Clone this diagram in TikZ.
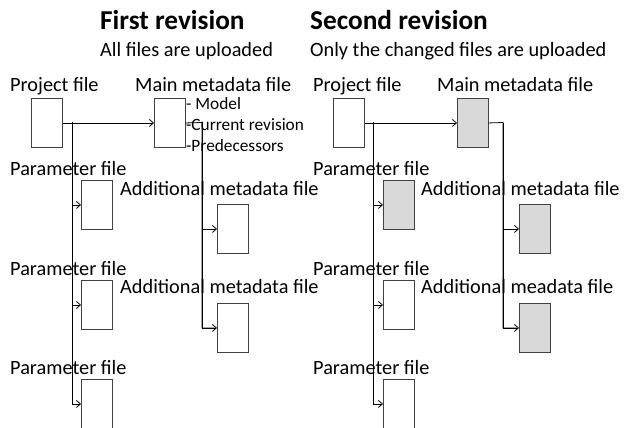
\documentclass[tikz,border=0pt]{standalone}
\usepackage{fontspec}
\setmainfont{Carlito}
\usetikzlibrary{arrows.meta}
\begin{document}
\begin{tikzpicture}[x=1pt,y=-1pt,
  filebox/.style={draw=black!75,line width=0.9pt,minimum width=31pt,minimum height=49pt,inner sep=0pt,anchor=north west},
  changed/.style={filebox,fill=black!15},
  lbl/.style={anchor=base west,inner sep=0pt,font=\fontsize{20.3}{22}\selectfont},
  small/.style={anchor=base west,inner sep=0pt,font=\fontsize{17.3}{19}\selectfont},
  ttl/.style={anchor=base west,inner sep=0pt,font=\fontsize{27.3}{30}\selectfont\bfseries},
  conn/.style={draw=black,line width=0.8pt,line cap=rect},
  arr/.style={draw=black,line width=0.8pt,-{Straight Barb[length=4pt,width=7pt]}}]
\useasboundingbox (0,0) rectangle (624,428);
% ---------- First revision ----------
\node[ttl] (t1) at (100,30) {First revision};
\node[lbl] (s1) at (100,57) {All files are uploaded};
\node[lbl] (lpf) at (10,92) {Project file};
\node[lbl] (lmm) at (135,92) {Main metadata file};
\node[small] (lm1) at (186,110) {- Model};
\node[small] (lm2) at (186,130) {-Current revision};
\node[small] (lm3) at (186,151) {-Predecessors};
\node[lbl] (lp1) at (10,175) {Parameter file};
\node[lbl] (la1) at (120,195) {Additional metadata file};
\node[lbl] (lp2) at (10,275) {Parameter file};
\node[lbl] (la2) at (120,293) {Additional metadata file};
\node[lbl] (lp3) at (10,374) {Parameter file};

\node[filebox] (pf) at (31,98) {};
\node[filebox] (mm) at (154,98) {};
\node[filebox] (p1) at (81,180) {};
\node[filebox] (p2) at (81,280) {};
\node[filebox] (p3) at (81,379) {};
\node[filebox] (a1) at (217,204) {};
\node[filebox] (a2) at (217,303) {};

\coordinate (j1) at (72,122.5);
\coordinate (k1) at (202,122.5);
\draw[arr] (pf.east) -- (mm.west);
\draw[conn] (j1) |- ([xshift=-2pt]p3.west);
\draw[arr] (j1) |- (p1.west);
\draw[arr] (j1) |- (p2.west);
\draw[arr] (j1) |- (p3.west);
\draw[conn] (mm.east) -- (k1) |- ([xshift=-2pt]a2.west);
\draw[arr] (k1) |- (a1.west);
\draw[arr] (k1) |- (a2.west);

% ---------- Second revision ----------
\node[ttl] (t2) at (310,30) {Second revision};
\node[lbl] (s2) at (310,57) {Only the changed files are uploaded};
\node[lbl] (rpf) at (313,92) {Project file};
\node[lbl] (rmm) at (437,92) {Main metadata file};
\node[lbl] (rp1) at (313,175) {Parameter file};
\node[lbl] (ra1) at (421,195) {Additional metadata file};
\node[lbl] (rp2) at (313,275) {Parameter file};
\node[lbl] (ra2) at (421,293) {Additional meadata file};
\node[lbl] (rp3) at (313,374) {Parameter file};

\node[filebox] (qf) at (333,98) {};
\node[changed] (qm) at (457,98) {};
\node[changed] (q1) at (383,180) {};
\node[filebox] (q2) at (383,280) {};
\node[filebox] (q3) at (383,379) {};
\node[changed] (b1) at (519,204) {};
\node[changed] (b2) at (519,303) {};

\coordinate (j2) at (373,122.5);
\coordinate (k2) at (503,122.5);
\draw[arr] (qf.east) -- (qm.west);
\draw[conn] (j2) |- ([xshift=-2pt]q3.west);
\draw[arr] (j2) |- (q1.west);
\draw[arr] (j2) |- (q2.west);
\draw[arr] (j2) |- (q3.west);
\draw[conn] (qm.east) -- (k2) |- ([xshift=-2pt]b2.west);
\draw[arr] (k2) |- (b1.west);
\draw[arr] (k2) |- (b2.west);
\end{tikzpicture}
\end{document}
